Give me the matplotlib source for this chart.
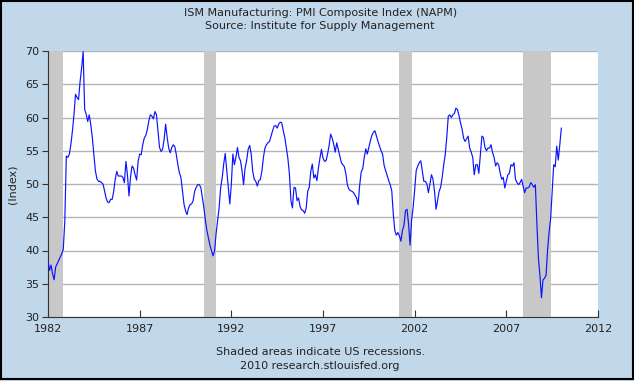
import numpy as np
import matplotlib
matplotlib.use("Agg")
import matplotlib.pyplot as plt
from matplotlib.patches import Rectangle

# Monthly ISM PMI values, Jan 1982 .. Jan 2010
pmi_1982 = [38.4, 37.0, 37.8, 36.5, 35.6, 37.5, 38.0, 38.5, 39.0, 39.5, 40.2, 44.4]
pmi_1983 = [54.2, 54.0, 54.5, 56.0, 58.0, 60.4, 63.5, 63.0, 62.7, 65.4, 67.4, 69.9]
pmi_1984 = [61.2, 60.5, 59.4, 60.4, 58.9, 57.0, 54.5, 52.0, 50.8, 50.4, 50.4, 50.2]
pmi_1985 = [50.0, 49.0, 47.9, 47.3, 47.2, 47.7, 47.7, 48.9, 50.7, 51.9, 51.2, 51.2]
pmi_1986 = [51.2, 51.0, 50.2, 53.4, 51.4, 48.2, 51.0, 52.7, 52.4, 51.4, 50.6, 53.4]
pmi_1987 = [54.5, 54.4, 55.9, 56.9, 57.3, 58.2, 59.5, 60.4, 60.2, 59.8, 60.9, 60.4]
pmi_1988 = [58.0, 55.5, 54.9, 55.2, 56.7, 59.0, 57.0, 55.4, 54.7, 55.5, 55.9, 55.6]
pmi_1989 = [54.4, 52.9, 51.7, 51.0, 49.0, 47.0, 46.0, 45.4, 46.4, 46.9, 47.0, 47.5]
pmi_1990 = [48.9, 49.5, 49.9, 49.9, 49.5, 48.0, 46.5, 44.6, 43.0, 41.9, 40.8, 40.0]
pmi_1991 = [39.2, 39.9, 42.5, 44.4, 46.4, 49.4, 50.9, 53.0, 54.6, 52.0, 49.5, 47.0]
pmi_1992 = [50.0, 54.5, 52.9, 54.0, 55.5, 54.0, 53.5, 52.0, 49.9, 52.4, 53.5, 55.2]
pmi_1993 = [55.8, 54.5, 51.9, 50.7, 50.4, 49.7, 50.5, 50.7, 51.9, 54.0, 55.4, 55.9]
pmi_1994 = [56.2, 56.4, 57.2, 58.0, 58.7, 58.8, 58.4, 59.0, 59.3, 59.2, 58.0, 57.0]
pmi_1995 = [55.5, 53.9, 51.5, 47.5, 46.4, 49.5, 49.4, 47.5, 47.9, 46.6, 46.1, 46.0]
pmi_1996 = [45.6, 46.4, 48.9, 49.5, 51.9, 53.0, 50.9, 51.4, 50.5, 52.4, 53.9, 55.2]
pmi_1997 = [53.9, 53.4, 53.5, 54.5, 55.8, 57.5, 56.9, 56.0, 54.8, 56.2, 55.2, 54.2]
pmi_1998 = [53.2, 52.9, 52.6, 51.5, 49.8, 49.2, 49.0, 48.9, 48.7, 48.3, 47.9, 46.9]
pmi_1999 = [49.8, 51.8, 52.3, 54.0, 55.3, 54.5, 55.5, 56.5, 57.3, 57.8, 58.0, 57.2]
pmi_2000 = [56.4, 55.7, 55.0, 54.5, 52.8, 52.0, 51.3, 50.5, 49.9, 49.0, 45.5, 43.0]
pmi_2001 = [42.3, 42.7, 42.2, 41.4, 43.0, 43.8, 46.0, 46.2, 44.0, 40.8, 44.6, 46.5]
pmi_2002 = [49.1, 52.0, 52.7, 53.2, 53.5, 52.0, 50.4, 50.4, 50.0, 48.7, 50.0, 51.4]
pmi_2003 = [50.7, 48.9, 46.2, 47.5, 48.9, 49.5, 51.0, 52.9, 54.4, 57.0, 60.2, 60.4]
pmi_2004 = [60.0, 60.4, 60.6, 61.4, 61.2, 60.3, 59.2, 58.3, 56.9, 56.4, 56.8, 57.2]
pmi_2005 = [55.4, 54.8, 54.0, 51.4, 52.9, 52.9, 51.6, 54.4, 57.2, 57.0, 55.5, 55.0]
pmi_2006 = [55.4, 55.4, 55.9, 54.7, 54.0, 52.7, 53.2, 52.9, 51.6, 50.7, 51.0, 49.4]
pmi_2007 = [50.4, 51.4, 51.6, 52.9, 52.7, 53.2, 50.7, 50.2, 49.9, 50.2, 50.7, 49.7]
pmi_2008 = [48.7, 49.4, 49.4, 49.6, 50.2, 49.9, 49.5, 49.9, 44.0, 38.9, 36.2, 32.9]
pmi_2009 = [35.6, 35.8, 36.3, 40.1, 42.8, 44.8, 48.9, 52.9, 52.6, 55.7, 53.6, 55.9]
pmi_2010 = [58.4]

pmi = (pmi_1982 + pmi_1983 + pmi_1984 + pmi_1985 + pmi_1986 + pmi_1987
       + pmi_1988 + pmi_1989 + pmi_1990 + pmi_1991 + pmi_1992 + pmi_1993
       + pmi_1994 + pmi_1995 + pmi_1996 + pmi_1997 + pmi_1998 + pmi_1999
       + pmi_2000 + pmi_2001 + pmi_2002 + pmi_2003 + pmi_2004 + pmi_2005
       + pmi_2006 + pmi_2007 + pmi_2008 + pmi_2009 + pmi_2010)
dates = 1982 + np.arange(len(pmi)) / 12.0

# NBER recessions (start, end) as decimal years
rec_start = [1981.5, 1990.5, 2001.17, 2007.92]
rec_end = [1982.83, 1991.17, 2001.83, 2009.42]

x_ticks = [1982, 1987, 1992, 1997, 2002, 2007, 2012]
y_ticks = [30, 35, 40, 45, 50, 55, 60, 65, 70]

bg = '#c1d7ea'
fig = plt.figure(figsize=(6.34, 3.81), dpi=100, facecolor=bg)
ax = fig.add_axes([48 / 634, 1 - 317 / 381, 550 / 634, 266 / 381])
ax.set_facecolor('white')

for s, e in zip(rec_start, rec_end):
    ax.axvspan(s, e, color='#c8c8c8', lw=0, zorder=1)

ax.plot(dates, pmi, color='#0a14ff', lw=0.85, zorder=3)

ax.set_xlim(1982, 2012)
ax.set_ylim(30, 70)
ax.set_xticks(x_ticks)
ax.set_yticks(y_ticks)
ax.yaxis.grid(True, color='#b4b4b4', lw=1, zorder=0)
ax.set_axisbelow(True)

for sp in ['top', 'right']:
    ax.spines[sp].set_visible(False)
ax.spines['left'].set_color('#333333')
ax.spines['bottom'].set_color('#333333')
ax.tick_params(axis='y', direction='out', length=4, color='#333333',
               labelsize=8, pad=2, labelcolor='#222222')
ax.tick_params(axis='x', direction='in', length=5, color='#333333',
               labelsize=8, pad=5, labelcolor='#222222')
ax.set_ylabel('(Index)', fontsize=8, color='#222222', labelpad=6)

fig.text(0.505, 1 - 13 / 381, 'ISM Manufacturing: PMI Composite Index (NAPM)',
         ha='center', va='center', fontsize=8, color='#222222')
fig.text(0.505, 1 - 26 / 381, 'Source: Institute for Supply Management',
         ha='center', va='center', fontsize=8, color='#222222')
fig.text(0.505, 1 - 352 / 381, 'Shaded areas indicate US recessions.',
         ha='center', va='center', fontsize=8, color='#222222')
fig.text(0.505, 1 - 366 / 381, '2010 research.stlouisfed.org',
         ha='center', va='center', fontsize=8, color='#222222')

fig.patches.append(Rectangle((0.002, 0.004), 0.996, 0.993, transform=fig.transFigure,
                             fill=False, edgecolor='black', lw=1.5))

fig.savefig('out.png', dpi=100, facecolor=bg)
